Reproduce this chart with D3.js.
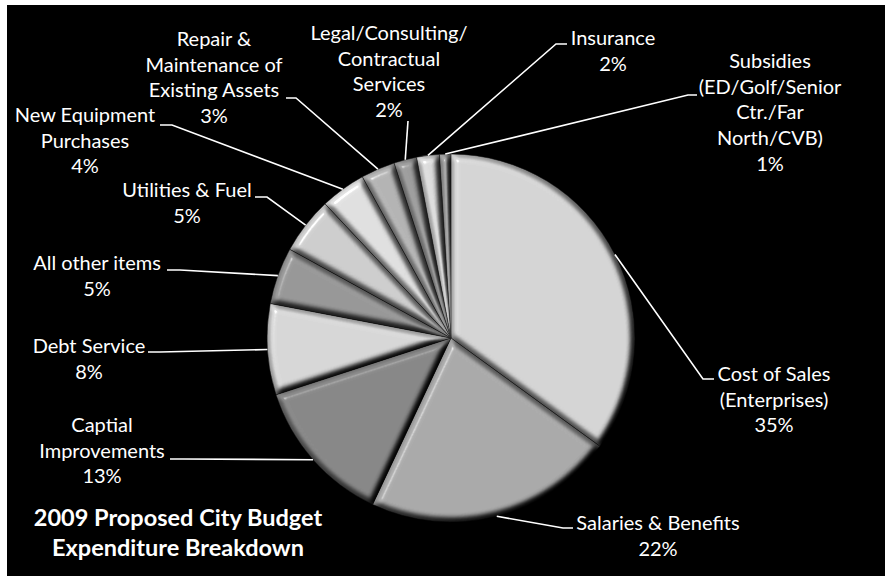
<!DOCTYPE html>
<html>
<head>
<meta charset="utf-8">
<script src="https://cdn.jsdelivr.net/npm/d3@7"></script>
<style>
  html, body { margin: 0; padding: 0; background: #fff; }
  svg { display: block; }
  text { font-family: Lato, "Noto Sans", sans-serif; fill: #fff; }
</style>
</head>
<body>
<svg id="chart" width="885" height="576"></svg>
<script>
// ---- data ----
const categories = [
  "Cost of Sales (Enterprises)",
  "Salaries & Benefits",
  "Captial Improvements",
  "Debt Service",
  "All other items",
  "Utilities & Fuel",
  "New Equipment Purchases",
  "Repair & Maintenance of Existing Assets",
  "Legal/Consulting/ Contractual Services",
  "Insurance",
  "Subsidies (ED/Golf/Senior Ctr./Far North/CVB)"
];
const values = [35, 22, 13, 8, 5, 5, 4, 3, 2, 2, 1];
const percentLabels = ["35%", "22%", "13%", "8%", "5%", "5%", "4%", "3%", "2%", "2%", "1%"];
const labelLines = [
  ["Cost of Sales", "(Enterprises)"],
  ["Salaries & Benefits"],
  ["Captial", "Improvements"],
  ["Debt Service"],
  ["All other items"],
  ["Utilities & Fuel"],
  ["New Equipment", "Purchases"],
  ["Repair &", "Maintenance of", "Existing Assets"],
  ["Legal/Consulting/", "Contractual", "Services"],
  ["Insurance"],
  ["Subsidies", "(ED/Golf/Senior", "Ctr./Far", "North/CVB)"]
];
const titleLines = ["2009 Proposed City Budget", "Expenditure Breakdown"];

// ---- styles / layout ----
const shades = ["#cdcdcd", "#a4a4a4", "#838383", "#cfcfcf", "#939393", "#c6c6c6",
                "#d8d8d8", "#adadad", "#979797", "#d3d3d3", "#9f9f9f"];
// text centre x, first baseline y, leader: horizontal end x, elbow x, y
const labelLayout = [
  {cx: 774, ty: 381, hx: 714, ex: 703, ly: 379},
  {cx: 658, ty: 530, hx: 573, ex: 563, ly: 528},
  {cx: 102, ty: 432, hx: 170, ex: 183, ly: 459},
  {cx: 89,  ty: 353, hx: 148, ex: 160, ly: 352},
  {cx: 97,  ty: 270, hx: 167, ex: 180, ly: 270},
  {cx: 187, ty: 197, hx: 255, ex: 267, ly: 197},
  {cx: 85,  ty: 122, hx: 160, ex: 172, ly: 125},
  {cx: 214, ty: 46,  hx: 286, ex: 296, ly: 98},
  {cx: 389, ty: 40,  hx: 408, ex: 408, ly: 121},
  {cx: 613, ty: 45,  hx: 567, ex: 556, ly: 44},
  {cx: 770, ty: 68,  hx: 697, ex: 688, ly: 95}
];
const W = 885, H = 576;
const cx = 451, cy = 338, R = 184;
const lineH = 25.7;
const labelSize = 20;

const svg = d3.select("#chart");
svg.append("rect").attr("x", 7).attr("y", 5).attr("width", W - 7).attr("height", H - 5).attr("fill", "#000");

const defs = svg.append("defs");
const f = defs.append("filter").attr("id", "bevel")
  .attr("x", "-5%").attr("y", "-5%").attr("width", "110%").attr("height", "110%")
  .attr("color-interpolation-filters", "sRGB");
f.append("feGaussianBlur").attr("in", "SourceAlpha").attr("stdDeviation", 3.5).attr("result", "b");
const dl = f.append("feDiffuseLighting").attr("in", "b").attr("surfaceScale", 9)
  .attr("diffuseConstant", 1.12).attr("lighting-color", "#fff").attr("result", "d");
dl.append("feDistantLight").attr("azimuth", 225).attr("elevation", 63);
const sl = f.append("feSpecularLighting").attr("in", "b").attr("surfaceScale", 9)
  .attr("specularConstant", 0.7).attr("specularExponent", 50).attr("lighting-color", "#fff").attr("result", "s");
sl.append("feDistantLight").attr("azimuth", 225).attr("elevation", 40);
f.append("feComposite").attr("in", "s").attr("in2", "SourceAlpha").attr("operator", "in").attr("result", "s2");
f.append("feComposite").attr("in", "SourceGraphic").attr("in2", "d").attr("operator", "arithmetic")
  .attr("k1", 1).attr("k2", 0).attr("k3", 0).attr("k4", 0).attr("result", "m");
f.append("feComposite").attr("in", "m").attr("in2", "s2").attr("operator", "arithmetic")
  .attr("k1", 0).attr("k2", 1).attr("k3", 0.35).attr("k4", 0).attr("result", "m2");
f.append("feComposite").attr("in", "m2").attr("in2", "SourceAlpha").attr("operator", "in");

// vertical shading gradient per slice
const grads = shades.map((c, i) => {
  const g = defs.append("linearGradient").attr("id", "g" + i)
    .attr("gradientUnits", "userSpaceOnUse")
    .attr("x1", cx - R * 0.3).attr("y1", cy - R).attr("x2", cx + R * 0.3).attr("y2", cy + R);
  const base = d3.color(c);
  g.append("stop").attr("offset", "0%").attr("stop-color", base.brighter(0.12));
  g.append("stop").attr("offset", "100%").attr("stop-color", base.darker(0.12));
  return "url(#g" + i + ")";
});

const pie = d3.pie().sort(null).value(d => d)(values);
const arc = d3.arc().innerRadius(0).outerRadius(R);

const g = svg.append("g").attr("transform", `translate(${cx},${cy})`);
g.selectAll("path.slice").data(pie).enter().append("path")
  .attr("class", "slice")
  .attr("d", arc)
  .attr("fill", (d, i) => grads[i])
  .attr("stroke", "#2e2e2e")
  .attr("stroke-width", 0.6)
  .attr("filter", "url(#bevel)");

// leader lines
const lines = svg.append("g");
pie.forEach((d, i) => {
  const a = (d.startAngle + d.endAngle) / 2;
  const px = cx + R * Math.sin(a), py = cy - R * Math.cos(a);
  const L = labelLayout[i];
  lines.append("polyline")
    .attr("points", `${px},${py} ${L.ex},${L.ly} ${L.hx},${L.ly}`)
    .attr("fill", "none").attr("stroke", "#fff").attr("stroke-width", 1.6);
});

// labels
const lab = svg.append("g");
labelLines.forEach((ls, i) => {
  const L = labelLayout[i];
  const t = lab.append("text").attr("text-anchor", "middle").attr("font-size", labelSize);
  ls.concat([percentLabels[i]]).forEach((s, k) => {
    t.append("tspan").attr("x", L.cx).attr("y", L.ty + k * lineH).text(s);
  });
});

// title
const tt = svg.append("text").attr("text-anchor", "middle").attr("font-size", 23.5).attr("font-weight", "bold");
titleLines.forEach((s, k) => tt.append("tspan").attr("x", 178).attr("y", 526 + k * 30).text(s));
</script>
</body>
</html>
